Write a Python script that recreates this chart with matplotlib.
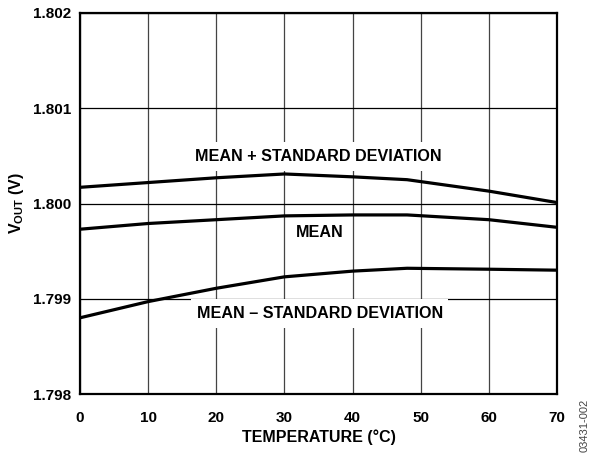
import matplotlib
matplotlib.use("Agg")
import matplotlib.pyplot as plt
from matplotlib.path import Path

# data
temps = [0, 10, 20, 30, 40, 48, 60, 70]
vout_plus_sd = [1.80017, 1.80022, 1.80027, 1.80031, 1.80028, 1.80025, 1.80013, 1.80001]
vout_mean = [1.79973, 1.79979, 1.79983, 1.79987, 1.79988, 1.79988, 1.79983, 1.79975]
vout_minus_sd = [1.79880, 1.79897, 1.79911, 1.79923, 1.79929, 1.79932, 1.79931, 1.79930]

x_ticks = [0, 10, 20, 30, 40, 50, 60, 70]
y_ticks = [1.798, 1.799, 1.800, 1.801, 1.802]


def label_box(x0, y0, width, height, mutation_size):
    # white box, taller padding than side padding
    px = 0.34 * mutation_size
    py = 0.44 * mutation_size
    pts = [(x0 - px, y0 - py), (x0 + width + px, y0 - py),
           (x0 + width + px, y0 + height + py), (x0 - px, y0 + height + py),
           (x0 - px, y0 - py)]
    return Path(pts, closed=True)


def main():
    plt.rcParams["font.family"] = ["Liberation Sans", "DejaVu Sans"]
    plt.rcParams["font.weight"] = "bold"
    plt.rcParams["font.size"] = 11
    plt.rcParams["mathtext.fontset"] = "custom"
    plt.rcParams["mathtext.rm"] = "Liberation Sans:bold"
    plt.rcParams["mathtext.it"] = "Liberation Sans:bold"
    plt.rcParams["mathtext.bf"] = "Liberation Sans:bold"

    fig = plt.figure(figsize=(5.92, 4.53), dpi=100)
    ax = fig.add_axes([80 / 592, 1 - 394 / 453, 477 / 592, 381 / 453])

    ax.set_xlim(0, 70)
    ax.set_ylim(1.798, 1.802)
    ax.set_xticks(x_ticks)
    ax.set_yticks(y_ticks)
    ax.set_xticklabels([str(t) for t in x_ticks], fontweight="bold")
    ax.set_yticklabels([f"{t:.3f}" for t in y_ticks], fontweight="bold")
    ax.tick_params(axis="both", length=0)
    ax.tick_params(axis="x", pad=12)
    ax.tick_params(axis="y", pad=6.5)

    ax.xaxis.grid(True, color="#444444", lw=0.9)
    ax.yaxis.grid(True, color="black", lw=0.9)
    ax.set_axisbelow(True)
    for sp in ax.spines.values():
        sp.set_linewidth(1.6)
        sp.set_zorder(5)

    for series in (vout_plus_sd, vout_mean, vout_minus_sd):
        ax.plot(temps, series, color="black", lw=2.3, zorder=4,
                solid_capstyle="butt")

    box = dict(boxstyle=label_box, facecolor="white", edgecolor="none")
    ax.text(34.9, 1.800495, "MEAN + STANDARD DEVIATION", ha="center",
            va="center", fontsize=11.6, fontweight="bold", bbox=box, zorder=3)
    ax.text(35.2, 1.79970, "MEAN", ha="center", va="center",
            fontsize=11.6, fontweight="bold", zorder=3)
    ax.text(35.2, 1.798842, "MEAN \u2013 STANDARD DEVIATION", ha="center",
            va="center", fontsize=11.6, fontweight="bold", bbox=box, zorder=3)

    ax.set_xlabel("TEMPERATURE (°C)", fontsize=11.5, fontweight="bold")
    ax.xaxis.label.set_va("center")
    ax.xaxis.set_label_coords(0.5, (394 - 437.5) / 381)
    ax.set_ylabel(r"V$_{\mathrm{OUT}}$ (V)", fontsize=11.5, fontweight="bold")
    ax.yaxis.label.set_va("center")
    ax.yaxis.set_label_coords((17 - 80) / 477, 0.5)

    fig.text(585 / 592, 1 - 425 / 453, "03431-002", rotation=90,
             ha="center", va="center", fontsize=8, fontweight="normal",
             color="#444444")

    fig.savefig("out.png", dpi=100)


if __name__ == "__main__":
    main()
